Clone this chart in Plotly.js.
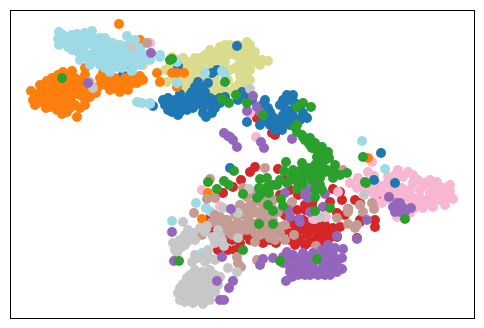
<!DOCTYPE html>
<html><head><meta charset="utf-8">
<script src="https://cdn.plot.ly/plotly-3.0.1.min.js"></script>
<style>html,body{margin:0;padding:0;background:#fff}#c{width:484px;height:328px}</style></head>
<body><div id="c"></div>
<script>
const red=[[95,55],[257,118],[275,135],[272,133],[255,167],[250,172],[278,169],[241,180],[233,187],[223,193],[210,218],[295,180],[288,210],[297,210],[303,220],[300,230],[307,233],[293,223],[313,230],[242,227],[250,230],[263,233],[218,250],[263,243],[276,243],[297,237],[307,235],[317,237],[327,230],[333,228],[320,227],[303,228],[300,220],[292,233],[323,247],[337,237],[357,238],[360,220],[220,230],[240,243],[333,189],[342,200],[348,209],[360,203],[375,220],[375,227],[360,222],[337,213],[307,230],[313,200],[305,210],[377,200],[322,237],[310,225],[325,225],[315,240],[285,215],[292,220],[298,228],[308,222],[232,240],[212,225],[340,192],[330,202],[295,225],[305,225],[315,225],[325,235],[330,237],[300,240],[310,242],[320,243],[328,240],[290,240],[285,230],[295,245],[305,245],[318,232],[345,215],[355,200],[213,235],[225,240],[235,250],[250,240],[258,240],[270,240],[228,250],[245,235],[218,240],[340,227],[285,180],[290,190],[280,195],[298,195],[305,205],[312,205]];
const pink=[[150,43],[250,113],[256,137],[202,190],[220,206],[315,219],[326,217],[372,162],[368,172],[374,176],[398,170],[388,177],[413,175],[403,177],[392,182],[430,180],[437,182],[450,185],[453,199],[445,205],[433,207],[423,208],[415,203],[400,197],[382,203],[380,192],[372,192],[357,188],[350,183],[358,178],[420,190],[430,193],[440,193],[410,190],[427,200],[413,183],[393,190],[407,200],[402,188],[385,185],[397,217],[410,213],[338,192],[325,217],[313,219],[420,198],[435,188],[425,185],[390,197],[368,185],[395,175],[408,172],[418,180],[425,183],[430,185],[440,187],[445,188],[447,193],[450,192],[445,198],[438,200],[430,203],[420,203],[412,197],[405,193],[397,195],[393,200],[388,195],[383,187],[378,185],[372,185],[365,190],[360,185],[385,200],[375,200],[400,205],[408,206],[415,208],[435,195]];
const khaki=[[247,42],[230,45],[220,47],[210,50],[205,55],[193,62],[183,58],[172,57],[167,70],[188,80],[180,82],[197,70],[213,60],[238,45],[242,53],[255,58],[268,61],[260,65],[250,70],[240,75],[235,68],[225,62],[223,88],[235,87],[213,95],[188,92],[247,60],[230,70],[207,60],[217,52],[195,75],[175,70],[182,65],[253,63],[247,75],[233,90],[143,65],[165,70],[167,82],[225,52],[235,55],[215,55],[190,68],[205,68],[175,78],[240,62],[228,92],[243,86],[200,58],[210,55],[215,60],[220,55],[225,45],[232,50],[240,48],[245,48],[250,52],[250,45],[228,55],[222,65],[210,65],[200,65],[195,58],[188,62],[177,60],[170,65],[175,65],[185,72],[192,72],[200,75],[205,78],[190,85],[182,88],[195,85],[238,70],[245,68],[255,52],[262,60],[245,82],[250,80],[240,82],[218,85],[212,90],[220,92],[228,80],[215,78]];
const blue=[[237,46],[178,66],[217,70],[212,73],[198,82],[208,83],[198,92],[180,94],[163,100],[172,103],[190,98],[200,100],[210,98],[168,110],[178,115],[187,110],[193,108],[203,107],[206,117],[212,113],[220,103],[225,97],[242,92],[238,100],[265,100],[268,108],[273,117],[247,122],[260,125],[270,125],[283,123],[290,120],[287,95],[293,95],[283,100],[285,108],[293,110],[303,113],[307,118],[300,120],[282,130],[153,106],[175,100],[185,103],[195,100],[205,103],[215,100],[170,107],[123,75],[132,67],[230,168],[381,153],[374,180],[395,183],[278,120],[288,112],[298,105],[180,108],[192,92],[205,92],[168,98],[175,105],[182,100],[188,104],[195,105],[200,95],[205,100],[208,105],[165,105],[172,112],[180,112],[190,95],[198,100],[195,87],[200,87],[215,108],[220,98],[203,113],[245,95],[252,100],[262,105],[265,112],[270,112],[275,125],[280,120],[285,125],[290,125],[295,118],[300,108],[290,100],[280,105],[295,103],[290,115],[283,115],[265,120],[275,130]];
const orange=[[119,24],[140,40],[85,68],[72,71],[68,75],[47,81],[31,91],[42,88],[33,100],[35,105],[46,108],[57,110],[67,112],[77,117],[85,105],[96,93],[102,83],[103,73],[118,90],[112,83],[125,78],[133,83],[143,80],[157,73],[160,82],[50,90],[55,85],[60,80],[65,85],[70,90],[75,85],[80,80],[60,95],[70,100],[80,95],[50,100],[60,105],[90,90],[45,95],[75,105],[40,98],[85,95],[65,90],[55,100],[115,78],[120,85],[127,85],[135,78],[172,73],[177,73],[184,73],[177,87],[208,193],[202,219],[368,158],[40,85],[45,85],[50,82],[52,78],[58,75],[63,72],[68,80],[75,78],[85,75],[40,92],[35,95],[38,103],[45,103],[50,107],[55,105],[60,110],[65,105],[70,108],[80,108],[85,100],[90,97],[92,88],[80,88],[75,92],[70,80],[72,96],[65,97],[58,90],[52,95],[47,100],[98,87],[100,78],[85,85],[62,114],[106,85],[110,90],[115,85],[120,92],[125,82],[130,80],[137,83],[140,76],[108,78],[118,82],[123,88],[128,90]];
const cyan=[[59,32],[58,39],[59,45],[68,37],[77,34],[92,31],[85,38],[100,38],[105,38],[113,43],[127,36],[135,40],[140,48],[150,60],[160,55],[68,47],[78,52],[88,44],[97,47],[108,50],[80,60],[90,65],[100,57],[110,63],[122,53],[117,67],[127,63],[110,72],[132,71],[137,102],[142,103],[150,104],[70,42],[82,45],[95,42],[105,45],[115,55],[125,58],[90,55],[100,65],[130,50],[120,45],[160,57],[177,62],[205,73],[222,71],[225,75],[177,83],[150,103],[196,203],[206,208],[211,212],[172,221],[202,253],[362,141],[385,169],[63,35],[65,42],[72,35],[75,40],[75,46],[80,40],[85,33],[88,38],[92,36],[95,50],[100,43],[103,52],[108,42],[112,48],[118,50],[72,50],[83,50],[85,57],[92,60],[96,52],[105,58],[105,68],[112,58],[120,60],[115,62],[122,68],[128,45],[133,52],[137,57],[143,60],[130,58],[135,64],[125,50],[140,65],[145,55]];
const tan=[[147,43],[265,168],[210,179],[207,199],[215,198],[194,213],[243,188],[247,197],[248,207],[260,202],[267,197],[273,200],[220,217],[225,220],[218,225],[223,230],[230,233],[247,217],[253,213],[260,220],[267,213],[273,220],[280,227],[285,225],[263,227],[270,230],[255,233],[292,202],[294,235],[227,220],[237,223],[248,215],[247,230],[255,242],[267,233],[277,233],[285,240],[316,246],[257,260],[237,257],[238,263],[241,267],[177,252],[177,260],[202,235],[348,224],[337,218],[357,225],[348,212],[348,209],[360,205],[363,212],[372,203],[374,209],[355,228],[343,170],[240,232],[255,224],[265,222],[240,215],[245,210],[252,205],[258,212],[265,208],[272,208],[278,212],[262,215],[268,225],[275,228],[280,233],[270,238],[255,228],[250,222],[243,225],[235,215],[240,205],[255,195],[250,190],[230,225],[235,230],[275,240],[260,235],[265,205],[225,225],[228,228],[232,235],[212,222],[215,215]];
const gray=[[132,47],[93,88],[90,82],[250,89],[249,189],[183,222],[207,226],[223,208],[238,213],[193,233],[185,235],[190,240],[173,243],[182,247],[177,252],[218,230],[213,237],[215,243],[224,246],[238,238],[192,262],[195,255],[205,255],[205,262],[215,260],[228,268],[237,272],[190,275],[202,272],[210,270],[183,284],[178,293],[185,302],[193,303],[203,304],[210,300],[215,292],[218,285],[220,277],[200,283],[193,290],[203,292],[210,283],[197,278],[190,285],[185,292],[195,297],[205,280],[364,195],[320,217],[190,280],[195,270],[205,275],[215,275],[188,297],[198,300],[208,295],[213,287],[183,290],[192,297],[180,300],[187,278],[205,288],[197,286],[180,288],[200,296],[210,277],[215,281],[188,230],[195,240],[180,240],[175,250],[185,245],[200,228],[205,232],[198,258],[210,258],[208,250],[220,236],[222,240],[178,246]];
const purple=[[151,53],[88,83],[253,96],[247,111],[257,107],[260,112],[224,133],[230,137],[228,136],[233,140],[237,147],[261,142],[264,148],[292,139],[231,209],[172,232],[290,217],[299,219],[310,212],[288,210],[285,193],[307,190],[308,198],[313,183],[174,261],[222,257],[217,281],[233,281],[229,288],[220,300],[224,300],[263,259],[260,265],[273,258],[283,257],[286,281],[292,277],[293,255],[303,253],[313,253],[328,245],[337,236],[343,249],[342,258],[333,255],[342,269],[333,272],[325,275],[315,270],[305,275],[297,268],[290,267],[303,263],[313,263],[323,263],[332,263],[327,257],[290,260],[297,260],[357,239],[389,197],[397,203],[395,212],[403,208],[411,208],[405,212],[367,220],[323,207],[305,195],[325,194],[300,222],[300,258],[307,258],[317,258],[322,258],[337,262],[337,268],[328,268],[320,270],[310,268],[300,268],[293,272],[290,272],[298,275],[305,270],[310,275],[318,275],[330,275],[337,272],[322,250],[335,248],[330,250],[283,263],[287,252],[400,203],[393,207],[400,212]];
const green=[[62,78],[170,60],[172,59],[225,82],[236,95],[222,99],[229,103],[247,103],[263,115],[297,107],[303,103],[311,107],[295,127],[297,132],[302,135],[310,138],[208,182],[217,189],[224,181],[229,185],[234,171],[243,194],[257,198],[260,179],[267,178],[259,188],[267,187],[269,193],[277,185],[286,162],[284,171],[292,176],[287,183],[281,199],[283,206],[268,205],[273,211],[259,224],[273,224],[297,189],[303,184],[302,163],[300,171],[308,168],[315,197],[315,211],[303,137],[308,142],[315,147],[317,157],[312,173],[317,170],[315,143],[322,147],[328,152],[317,150],[312,148],[329,158],[335,165],[320,158],[325,172],[333,178],[347,173],[340,175],[317,163],[310,170],[315,177],[322,190],[330,208],[363,157],[365,182],[366,183],[405,219],[243,250],[280,261],[317,259],[179,261],[305,140],[310,145],[318,155],[322,152],[325,160],[315,165],[322,165],[327,170],[308,175],[303,178],[297,180],[290,180],[280,180],[273,185],[265,190],[260,195],[305,170],[312,180],[320,178],[330,172],[335,173],[320,185],[315,190],[293,170],[297,125]];
const groups=[[red,'#d62728'],[pink,'#f7b6d2'],[khaki,'#dbdb8d'],[blue,'#1f77b4'],[orange,'#ff7f0e'],[cyan,'#9edae5'],[tan,'#c49c94'],[gray,'#c7c7c7'],[purple,'#9467bd'],[green,'#2ca02c']];
const traces=groups.map(([pts,col])=>({type:'scatter',mode:'markers',x:pts.map(p=>p[0]),y:pts.map(p=>p[1]),marker:{color:col,size:10,line:{width:0}},hoverinfo:'skip'}));
const axis={showgrid:false,zeroline:false,showticklabels:false,ticks:'',showline:true,mirror:true,linecolor:'#000',linewidth:1};
Plotly.newPlot('c',traces,{width:484,height:328,showlegend:false,paper_bgcolor:'#fff',plot_bgcolor:'#fff',margin:{l:11,r:10,t:11,b:10},xaxis:{...axis,range:[11,474]},yaxis:{...axis,range:[318,11]}},{displayModeBar:false,staticPlot:true});
</script></body></html>
